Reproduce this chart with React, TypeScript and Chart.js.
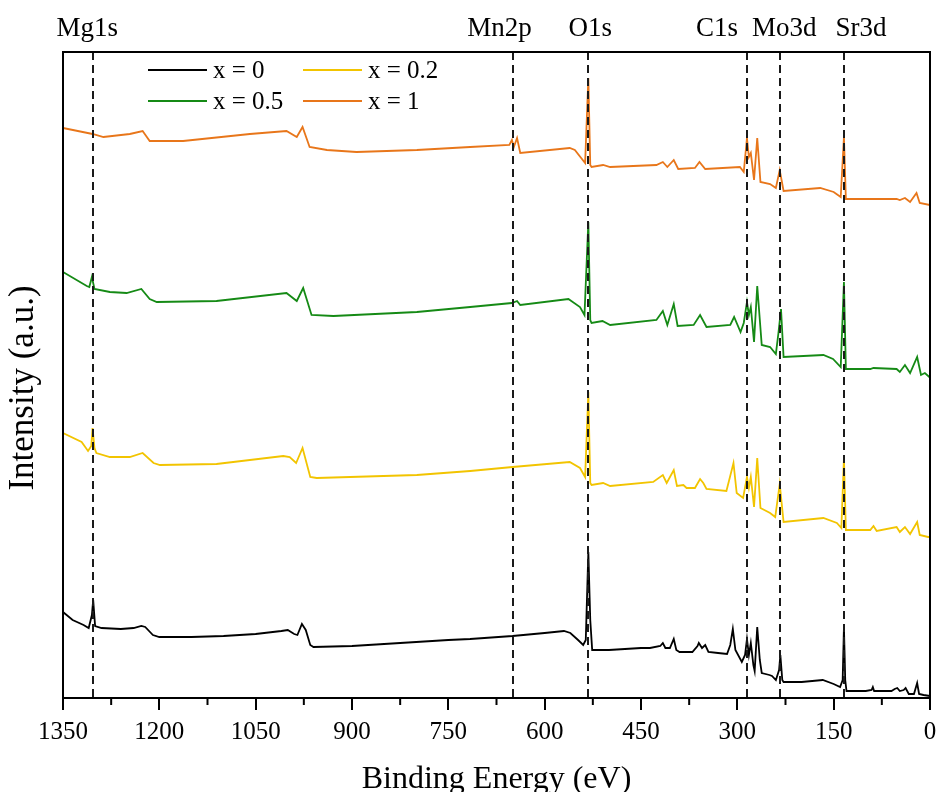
import React, { useEffect, useRef } from 'react';
import { Chart, registerables } from 'chart.js';

Chart.register(...registerables);

const FONT = '"Liberation Serif", "Times New Roman", Times, serif';

// ---------- data (binding energy eV, intensity a.u.) ----------
const seriesLabels = ['x = 0', 'x = 0.2', 'x = 0.5', 'x = 1'];
const seriesColors = ['#000000', '#f2c400', '#158a15', '#e8761a'];

const spectrumX0: [number, number][] = [
  [1350, 86], [1335, 78], [1318, 73], [1310, 70], [1305, 83], [1303, 98], [1300, 72], [1290, 70],
  [1260, 69], [1240, 70], [1228, 72], [1222, 71], [1210, 63], [1200, 61], [1150, 61], [1100, 62],
  [1050, 64], [1010, 67], [1000, 68], [990, 64], [985, 63], [978, 74], [972, 68], [965, 53],
  [960, 51], [900, 52], [850, 54], [800, 56], [750, 58], [716, 59], [650, 62], [600, 65],
  [570, 67], [560, 65], [548, 58], [540, 53], [536, 58], [532, 146], [529, 78], [526, 48],
  [500, 48], [450, 50], [436, 50], [420, 52], [416, 55], [412, 50], [405, 50], [399, 59],
  [395, 48], [390, 46], [370, 46], [362, 52], [360, 55], [355, 50], [350, 53], [345, 46],
  [330, 45], [316, 44], [311, 53], [307, 69], [303, 48], [293, 36], [288, 43], [285, 59],
  [282, 43], [279, 55], [275, 33], [273, 27], [269, 71], [265, 38], [262, 25], [250, 23],
  [246, 22], [240, 18], [235, 28], [233, 43], [230, 18], [228, 16], [200, 16], [167, 18],
  [150, 14], [140, 11], [136, 18], [134, 71], [132, 18], [130, 7], [100, 7], [91, 8],
  [89, 11], [87, 7], [60, 7], [55, 9], [51, 10], [47, 7], [41, 8], [38, 10],
  [33, 4], [25, 4], [20, 15], [17, 4], [10, 3], [0, 2],
];

const spectrumX02: [number, number][] = [
  [1350, 265], [1321, 256], [1311, 247], [1306, 252], [1304, 270], [1301, 250], [1298, 245], [1277, 241],
  [1246, 241], [1226, 245], [1209, 235], [1199, 233], [1111, 234], [1007, 242], [997, 241], [987, 235],
  [977, 250], [965, 221], [955, 220], [799, 223], [716, 227], [650, 231], [561, 236], [545, 230],
  [537, 221], [532, 306], [529, 215], [527, 213], [509, 215], [498, 212], [431, 216], [416, 223],
  [410, 215], [399, 228], [394, 212], [384, 213], [379, 210], [366, 210], [358, 219], [353, 215],
  [348, 209], [317, 207], [306, 235], [301, 205], [291, 200], [285, 221], [282, 210], [279, 221],
  [274, 191], [269, 240], [264, 190], [249, 185], [241, 181], [234, 214], [228, 176], [166, 180],
  [145, 175], [138, 170], [134, 240], [131, 168], [93, 168], [88, 172], [83, 167], [52, 171],
  [47, 166], [39, 171], [31, 164], [20, 176], [16, 163], [3, 161], [0, 161],
];

const spectrumX05: [number, number][] = [
  [1350, 426], [1313, 412], [1309, 411], [1305, 421], [1301, 409], [1277, 406], [1251, 405], [1228, 409],
  [1215, 399], [1204, 396], [1111, 397], [1002, 405], [986, 397], [976, 410], [963, 383], [929, 382],
  [799, 386], [716, 391], [651, 395], [643, 397], [638, 393], [563, 399], [545, 391], [538, 383],
  [532, 476], [529, 378], [527, 375], [510, 377], [498, 373], [426, 378], [416, 387], [409, 373],
  [399, 394], [393, 372], [368, 373], [358, 383], [348, 371], [311, 373], [305, 381], [295, 366],
  [290, 375], [285, 396], [282, 383], [279, 391], [274, 356], [269, 412], [262, 353], [249, 351],
  [240, 344], [236, 365], [232, 389], [228, 341], [166, 343], [151, 339], [139, 331], [134, 416],
  [131, 329], [93, 329], [88, 330], [52, 329], [47, 326], [39, 333], [31, 325], [20, 341],
  [14, 323], [8, 325], [1, 321], [0, 321],
];

const spectrumX1: [number, number][] = [
  [1350, 570], [1304, 564], [1287, 561], [1246, 564], [1226, 567], [1215, 557], [1163, 557], [1059, 564],
  [1002, 567], [986, 561], [977, 571], [966, 551], [939, 548], [893, 546], [799, 548], [716, 551],
  [655, 553], [651, 558], [648, 551], [643, 560], [638, 545], [561, 550], [553, 548], [537, 535],
  [532, 620], [529, 533], [527, 531], [509, 533], [498, 531], [426, 533], [416, 536], [409, 531],
  [399, 538], [392, 529], [366, 530], [359, 536], [350, 529], [296, 531], [290, 526], [285, 560],
  [282, 541], [279, 545], [274, 518], [269, 560], [264, 516], [249, 514], [240, 510], [234, 528],
  [228, 507], [171, 510], [150, 506], [139, 501], [134, 561], [131, 499], [52, 499], [47, 498],
  [39, 500], [31, 496], [21, 505], [16, 495], [0, 493],
];

const spectra = [spectrumX0, spectrumX02, spectrumX05, spectrumX1];

const peakEnergies = [1303, 650, 532, 285, 233, 134];
const peakLabels = ['Mg1s', 'Mn2p', 'O1s', 'C1s', 'Mo3d', 'Sr3d'];

const xTickStep = 150;
const xMinorStep = 75;
const yTitle = 'Intensity (a.u.)';

// ---------- layout (pixels) ----------
const labelOffsets = [-6, -13, 2, -30, 4, 17];

const decorPlugin = {
  id: 'xpsDecor',
  afterDatasetsDraw(chart: any) {
    const { ctx, chartArea } = chart;
    const xs = chart.scales.x;
    const { left, right, top, bottom } = chartArea;
    ctx.save();
    // dashed reference lines
    ctx.strokeStyle = '#1a1a1a';
    ctx.lineWidth = 2;
    ctx.setLineDash([8, 5]);
    peakEnergies.forEach((e) => {
      const px = Math.round(xs.getPixelForValue(e));
      ctx.beginPath();
      ctx.moveTo(px, top);
      ctx.lineTo(px, bottom);
      ctx.stroke();
    });
    ctx.setLineDash([]);
    // frame
    ctx.strokeStyle = '#000';
    ctx.lineWidth = 2;
    ctx.strokeRect(left, top, right - left, bottom - top);
    // minor ticks
    for (let v = xMinorStep; v < 1350; v += xTickStep) {
      const px = xs.getPixelForValue(v);
      ctx.beginPath();
      ctx.moveTo(px, bottom);
      ctx.lineTo(px, bottom + 7);
      ctx.stroke();
    }
    // peak labels
    ctx.fillStyle = '#000';
    ctx.font = `27px ${FONT}`;
    ctx.textAlign = 'center';
    ctx.textBaseline = 'alphabetic';
    peakEnergies.forEach((e, i) => {
      const px = xs.getPixelForValue(e) + labelOffsets[i];
      ctx.fillText(peakLabels[i], px, 36);
    });
    // y title
    ctx.save();
    ctx.translate(33, 388);
    ctx.rotate(-Math.PI / 2);
    ctx.font = `35px ${FONT}`;
    ctx.textAlign = 'center';
    ctx.textBaseline = 'alphabetic';
    ctx.fillText(yTitle, 0, 0);
    ctx.restore();
    // legend
    const cols = [left + 85, left + 240];
    const rows = [top + 18, top + 49];
    ctx.font = `25px ${FONT}`;
    ctx.textAlign = 'left';
    ctx.textBaseline = 'middle';
    seriesLabels.forEach((lab, i) => {
      const cx = cols[i % 2];
      const cy = rows[Math.floor(i / 2)];
      ctx.strokeStyle = seriesColors[i];
      ctx.lineWidth = 2;
      ctx.beginPath();
      ctx.moveTo(cx, cy);
      ctx.lineTo(cx + 59, cy);
      ctx.stroke();
      ctx.fillStyle = '#000';
      ctx.fillText(lab, cx + 65, cy + 1);
    });
    ctx.restore();
  },
};

export default function App() {
  const canvasRef = useRef<HTMLCanvasElement | null>(null);

  useEffect(() => {
    document.body.style.margin = '0';
    const canvas = canvasRef.current;
    if (!canvas) return;
    const chart = new Chart(canvas, {
      type: 'line',
      data: {
        datasets: spectra.map((s, i) => ({
          label: seriesLabels[i],
          data: s.map(([x, y]) => ({ x, y })),
          borderColor: seriesColors[i],
          backgroundColor: seriesColors[i],
          borderWidth: 1.8,
          pointRadius: 0,
          tension: 0,
          fill: false,
        })),
      },
      options: {
        animation: false,
        responsive: false,
        devicePixelRatio: 1,
        layout: { padding: { top: 52, right: 9, left: 0, bottom: 0 } },
        plugins: { legend: { display: false }, tooltip: { enabled: false } },
        scales: {
          x: {
            type: 'linear',
            min: 0,
            max: 1350,
            reverse: true,
            ticks: {
              stepSize: xTickStep,
              color: '#000',
              font: { family: FONT, size: 25 },
              padding: 7,
              maxRotation: 0,
              autoSkip: false,
              callback: (v: any) => String(v),
            },
            grid: {
              display: true,
              drawOnChartArea: false,
              drawTicks: true,
              tickLength: 12,
              color: '#000',
              lineWidth: 2,
            },
            border: { display: true, color: '#000', width: 2 },
            title: {
              display: true,
              text: 'Binding Energy (eV)',
              color: '#000',
              font: { family: FONT, size: 32, lineHeight: 0.75 },
              padding: 0,
            },
            afterFit: (s: any) => {
              s.height = 94;
              s.paddingLeft = 0;
              s.paddingRight = 0;
            },
          },
          y: {
            type: 'linear',
            min: 0,
            max: 646,
            ticks: { display: false },
            grid: { display: false },
            border: { display: true, color: '#000', width: 2 },
            title: { display: false },
            afterFit: (s: any) => {
              s.width = 63;
              s.paddingTop = 0;
              s.paddingBottom = 0;
            },
          },
        },
      },
      plugins: [decorPlugin],
    });
    return () => chart.destroy();
  }, []);

  return (
    <div style={{ width: 939, height: 792 }}>
      <canvas ref={canvasRef} width={939} height={792} style={{ width: 939, height: 792, display: 'block' }} />
    </div>
  );
}
